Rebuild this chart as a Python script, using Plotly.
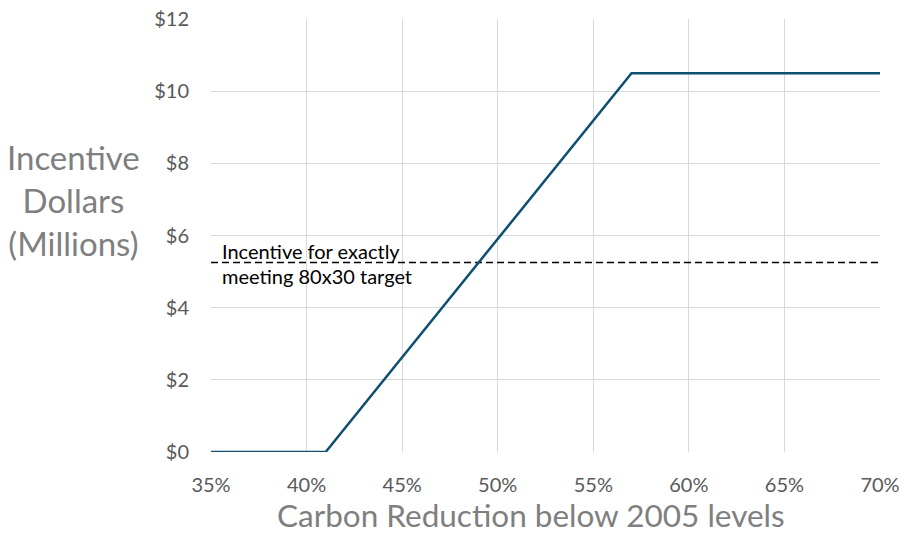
import plotly.graph_objects as go

# Data
reduction_pct = [35, 41, 57, 70]
incentive_musd = [0, 0, 10.5, 10.5]
target_incentive = 5.25
x_ticks = [35, 40, 45, 50, 55, 60, 65, 70]
x_tick_labels = ["35%", "40%", "45%", "50%", "55%", "60%", "65%", "70%"]
y_ticks = [0, 2, 4, 6, 8, 10, 12]
y_tick_labels = ["$0", "$2", "$4", "$6", "$8", "$10", "$12"]

FONT = "Lato"
fig = go.Figure()
fig.add_trace(go.Scatter(x=[35, 70], y=[target_incentive, target_incentive], mode="lines",
                         line=dict(color="black", width=1.6, dash="7px,4px"),
                         hoverinfo="skip", showlegend=False))
fig.add_trace(go.Scatter(x=reduction_pct, y=incentive_musd, mode="lines",
                         line=dict(color="#0F4F70", width=2.5), showlegend=False))

fig.update_layout(
    width=905, height=533,
    margin=dict(l=211, r=25, t=19, b=81, autoexpand=False),
    plot_bgcolor="white", paper_bgcolor="white",
    font=dict(family=FONT, color="#595959", size=16),
    xaxis=dict(range=[35, 70], tickmode="array", tickvals=x_ticks, ticktext=x_tick_labels,
               showgrid=True, gridcolor="#D9D9D9", gridwidth=1, automargin=False,
               zeroline=False, showline=False, ticks="",
               ticklabelstandoff=19, tickfont=dict(size=20, color="#595959")),
    yaxis=dict(range=[0, 12], tickmode="array", tickvals=y_ticks, ticktext=y_tick_labels,
               showgrid=True, gridcolor="#D9D9D9", gridwidth=1, automargin=False,
               zeroline=False, showline=False, ticks="",
               ticklabelstandoff=21, tickfont=dict(size=20, color="#595959")),
    annotations=[
        dict(text="Incentive<br>Dollars<br>(Millions)", xref="paper", yref="paper",
             x=-0.205, y=0.583, xanchor="center", yanchor="middle", showarrow=False,
             align="center", font=dict(size=33, color="#7F7F7F", family=FONT)),
        dict(text="Carbon Reduction below 2005 levels", xref="paper", yref="paper",
             x=0.479, y=-0.146, xanchor="center", yanchor="middle", showarrow=False,
             font=dict(size=31.5, color="#7F7F7F", family=FONT)),
        dict(text="Incentive for exactly", x=35.45, y=target_incentive, xref="x", yref="y",
             xanchor="left", yanchor="bottom", yshift=-2, showarrow=False,
             font=dict(size=20, color="black", family=FONT)),
        dict(text="meeting 80x30 target", x=35.45, y=target_incentive, xref="x", yref="y",
             xanchor="left", yanchor="top", yshift=1, showarrow=False,
             font=dict(size=20, color="black", family=FONT)),
    ],
)
fig.write_html("out.html", config={"displayModeBar": False},
               post_script="document.body.style.margin='0';document.body.style.padding='0';document.body.style.overflow='hidden';")
